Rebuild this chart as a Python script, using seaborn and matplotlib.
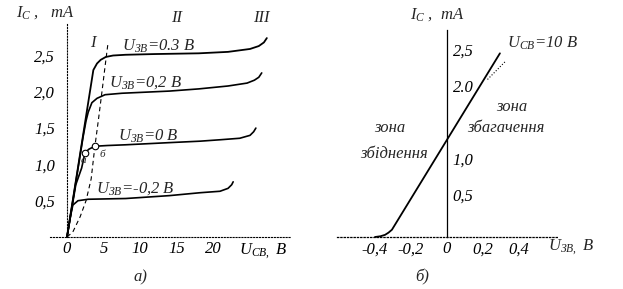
import numpy as np
import pandas as pd
import matplotlib
matplotlib.use("Agg")
import matplotlib.pyplot as plt
import matplotlib.transforms as mtransforms
import seaborn as sns

# ---------------- data: panel a) output characteristics ----------------
ucb_03 = [0, 3.6, 4.1, 4.6, 5.3, 6.3, 8, 12, 18, 22, 25, 26.2, 26.9, 27.3]
ic_03 = [0, 2.30, 2.39, 2.44, 2.48, 2.50, 2.51, 2.52, 2.53, 2.55, 2.59, 2.63, 2.68, 2.74]

ucb_02 = [0, 2.2, 2.6, 2.9, 3.4, 4.1, 5.2, 7.5, 14, 18, 22, 24.6, 25.6, 26.2, 26.6]
ic_02 = [0, 1.38, 1.60, 1.72, 1.85, 1.91, 1.96, 1.98, 2.01, 2.04, 2.08, 2.12, 2.16, 2.20, 2.26]

ucb_0 = [0, 1.2, 2.0, 2.46, 3.0, 3.8, 5.5, 8, 14, 18.2, 21, 23.6, 25, 25.5, 25.8]
ic_0 = [0, 0.72, 0.95, 1.16, 1.21, 1.25, 1.26, 1.27, 1.30, 1.32, 1.34, 1.36, 1.40, 1.45, 1.50]

ucb_m02 = [0, 0.5, 0.8, 1.5, 2.9, 8, 14, 18.2, 20.9, 22, 22.5, 22.7]
ic_m02 = [0, 0.30, 0.44, 0.50, 0.52, 0.53, 0.57, 0.61, 0.63, 0.67, 0.72, 0.76]

ucb_sat = [0, 0.8, 1.8, 2.6, 3.3, 3.8, 4.3, 4.8, 5.2, 5.6]
ic_sat = [0, 0.07, 0.28, 0.50, 0.80, 1.24, 1.62, 2.02, 2.35, 2.67]

pts_u = [2.46, 3.8]
pts_i = [1.16, 1.25]
pts_lbl = ["а", "б"]

curve_labels = ["$U_{ЗВ}$=0.3 В", "$U_{ЗВ}$=0,2 В", "$U_{ЗВ}$=0 В", "$U_{ЗВ}$=-0,2 В"]
curve_lbl_u = [7.5, 5.8, 6.9, 4.0]
curve_lbl_i = [2.63, 2.13, 1.39, 0.67]

left_xticks = [0, 5, 10, 15, 20, 25]
left_xticklabels = ["0", "5", "10", "15", "20", "$U_{CB,}$ В"]
left_yticks = [0.5, 1.0, 1.5, 2.0, 2.5]
left_yticklabels = ["0,5", "1,0", "1,5", "2,0", "2,5"]

region_labels = ["I", "II", "III"]
region_u = [3.55, 14.9, 26.6]
region_i = [2.67, 3.02, 3.02]

# ---------------- data: panel б) transfer characteristic ----------------
uzb = [-0.40, -0.37, -0.344, -0.325, -0.306, 0.294]
ic_t = [0.0, 0.01, 0.03, 0.06, 0.10, 2.53]
lead_u = [0.225, 0.325]
lead_i = [2.17, 2.42]

right_xticks = [-0.4, -0.2, 0, 0.2, 0.4]
right_xticklabels = ["-0,4", "-0,2", "0", "0,2", "0,4"]
right_yticks = [0.5, 1.0, 2.0, 2.5]
right_yticklabels = ["0,5", "1,0", "2.0", "2,5"]

# ---------------- style ----------------
sns.set_theme(style="white")
plt.rcParams["font.family"] = ["Liberation Serif", "DejaVu Serif"]
plt.rcParams["font.style"] = "italic"
plt.rcParams["mathtext.fontset"] = "custom"
plt.rcParams["mathtext.rm"] = "Liberation Serif:italic"
plt.rcParams["mathtext.it"] = "Liberation Serif:italic"
plt.rcParams["mathtext.bf"] = "Liberation Serif:bold"
FS = 12

W, H = 623, 289
fig = plt.figure(figsize=(W / 100, H / 100), dpi=100)
fig.patch.set_facecolor("white")

YLIM = ((237 - 289) / 72.6, 237 / 72.6)

# ---- left axes ----
axL = fig.add_axes([0, 0, 311 / W, 1])
axL.set_xlim((0 - 67) / 7.32, (311 - 67) / 7.32)
axL.set_ylim(*YLIM)
axL.patch.set_alpha(0)

def line(ax, x, y, **kw):
    df = pd.DataFrame({"x": x, "y": y})
    sns.lineplot(data=df, x="x", y="y", ax=ax, sort=False, estimator=None,
                 legend=False, **kw)

line(axL, ucb_03, ic_03, color="black", linewidth=1.3)
line(axL, ucb_02, ic_02, color="black", linewidth=1.2)
line(axL, ucb_0, ic_0, color="black", linewidth=1.2)
line(axL, ucb_m02, ic_m02, color="black", linewidth=1.2)
line(axL, ucb_sat, ic_sat, color="black", linewidth=0.8, linestyle=(0, (4, 3)))
sns.scatterplot(x=pts_u, y=pts_i, ax=axL, s=22, facecolor="white",
                edgecolor="black", linewidth=0.8, zorder=5, legend=False)
axL.text(2.2, 1.05, pts_lbl[0], fontsize=8, ha="center", va="center")
axL.text(4.8, 1.14, pts_lbl[1], fontsize=8, ha="center", va="center")

for t, u, i in zip(curve_labels, curve_lbl_u, curve_lbl_i):
    axL.text(u, i, t, fontsize=FS, ha="left", va="center")
for t, u, i in zip(region_labels, region_u, region_i):
    axL.text(u, i, t, fontsize=FS, ha="center", va="center")

axL.text(-7.0, 3.09, "$I_C$ ,   mA", fontsize=FS, ha="left", va="center")
axL.text(10.0, -0.55, "а)", fontsize=FS, ha="center", va="center")

for s in ["top", "right"]:
    axL.spines[s].set_visible(False)
axL.spines["left"].set_position(("data", 0))
axL.spines["bottom"].set_position(("data", 0))
axL.spines["left"].set_bounds(0, 2.93)
axL.spines["bottom"].set_bounds(-2.3, 30.5)
axL.spines["left"].set_linestyle(":")
axL.spines["bottom"].set_linestyle(":")
for s in ["left", "bottom"]:
    axL.spines[s].set_color("black")
    axL.spines[s].set_linewidth(0.8)
axL.set_xticks(left_xticks)
axL.set_xticklabels(left_xticklabels, fontsize=FS)
axL.set_yticks(left_yticks)
axL.set_yticklabels(left_yticklabels, fontsize=FS)
axL.tick_params(axis="x", direction="in", length=6, width=0.8, pad=3, colors="black")
axL.tick_params(axis="y", direction="out", length=7, width=0.8, pad=1.5, colors="black")
shift = mtransforms.ScaledTranslation(13 / 100, 0, fig.dpi_scale_trans)
lastlab = axL.get_xticklabels()[-1]
lastlab.set_transform(lastlab.get_transform() + shift)
axL.set_xlabel("")
axL.set_ylabel("")
axL.grid(False)

# ---- right axes ----
axR = fig.add_axes([311 / W, 0, (W - 311) / W, 1])
axR.set_xlim((311 - 447) / 180, (623 - 447) / 180)
axR.set_ylim(*YLIM)
axR.patch.set_alpha(0)

line(axR, uzb, ic_t, color="black", linewidth=1.3)
line(axR, lead_u, lead_i, color="black", linewidth=0.8, linestyle=":")
axR.text(0.333, 2.67, "$U_{CB}$=10 В", fontsize=FS, ha="left", va="center")
axR.text(-0.317, 1.50, "зона", fontsize=FS, ha="center", va="center")
axR.text(-0.295, 1.15, "збіднення", fontsize=FS, ha="center", va="center")
axR.text(0.36, 1.79, "зона", fontsize=FS, ha="center", va="center")
axR.text(0.33, 1.50, "збагачення", fontsize=FS, ha="center", va="center")
axR.text(-0.206, 3.06, "$I_C$ ,  mA", fontsize=FS, ha="left", va="center")
axR.text(0.69, -0.14, "$U_{ЗВ,}$ В", fontsize=FS, ha="center", va="center")
axR.text(-0.139, -0.55, "б)", fontsize=FS, ha="center", va="center")

for s in ["top", "right"]:
    axR.spines[s].set_visible(False)
axR.spines["left"].set_position(("data", 0))
axR.spines["bottom"].set_position(("data", 0))
axR.spines["left"].set_bounds(0, 2.85)
axR.spines["bottom"].set_bounds(-0.611, 0.611)
axR.spines["bottom"].set_linestyle(":")
for s in ["left", "bottom"]:
    axR.spines[s].set_color("black")
    axR.spines[s].set_linewidth(0.9)
axR.set_xticks(right_xticks)
axR.set_xticklabels(right_xticklabels, fontsize=FS)
axR.set_yticks(right_yticks)
axR.set_yticklabels(right_yticklabels, fontsize=FS)
axR.tick_params(axis="x", direction="in", length=6, width=0.8, pad=3, colors="black")
axR.tick_params(axis="y", direction="in", length=5, width=0.8, pad=-4, colors="black")
off = mtransforms.ScaledTranslation(0, 6 / 100, fig.dpi_scale_trans)
for lab in axR.get_yticklabels():
    lab.set_transform(lab.get_transform() + off)
    lab.set_horizontalalignment("left")
axR.set_xlabel("")
axR.set_ylabel("")
axR.grid(False)

fig.savefig("out.png", dpi=100, facecolor="white")
